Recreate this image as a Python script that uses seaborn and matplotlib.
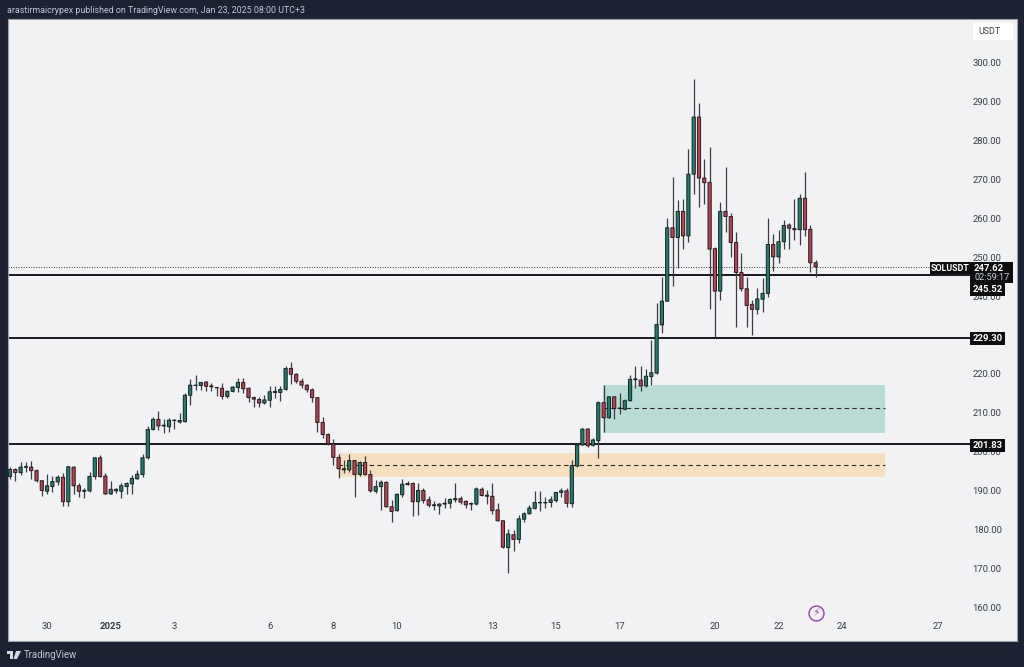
import matplotlib
matplotlib.use("Agg")
import matplotlib.pyplot as plt
from matplotlib.patches import Rectangle, Polygon
import numpy as np
import pandas as pd
import seaborn as sns

# O, H, L, C values (4h candles of SOL/USDT)
opens = [193.6,195.4,194.6,196.0,196.0,195.1,192.5,189.8,191.0,192.2,193.4,187.1,196.0,191.2,189.8,189.9,193.6,198.4,193.7,189.1,
 190.3,189.8,191.0,191.7,193.0,194.1,198.4,205.7,208.3,206.6,206.4,208.0,207.6,207.7,214.5,217.0,217.0,217.9,216.9,216.5,
 216.3,214.2,215.5,216.5,217.8,216.3,213.9,213.4,212.5,213.2,215.5,215.2,216.0,221.4,219.9,218.1,217.1,215.9,213.9,207.5,
 204.4,202.0,198.5,195.6,195.3,197.7,194.1,197.2,194.1,189.8,191.0,192.1,185.8,184.8,188.9,191.5,191.8,187.1,190.0,187.6,
 186.3,186.0,186.5,186.7,187.6,187.9,187.2,186.5,186.5,190.3,188.8,188.5,185.0,182.2,175.3,178.6,177.4,182.6,184.0,185.4,
 186.8,186.8,186.9,187.4,189.5,189.9,186.6,196.3,201.7,205.8,201.6,202.8,212.6,208.7,214.1,211.2,210.9,213.1,218.5,218.4,
 216.9,219.3,220.2,232.6,238.7,257.6,255.1,261.8,255.5,271.4,286.1,270.4,269.3,252.2,241.3,261.8,260.5,253.8,246.1,241.9,
 237.9,236.6,239.2,240.7,253.3,250.1,254.0,258.3,257.4,257.1,265.2,257.2,248.6]
closes = [195.4,194.6,196.0,196.1,195.1,192.5,190.0,191.2,192.3,193.4,187.1,196.1,191.2,189.8,190.0,193.6,198.4,193.6,189.1,190.3,
 189.9,191.2,191.8,193.1,194.2,198.4,205.7,208.3,206.6,206.8,208.1,208.1,208.0,214.5,217.1,217.1,217.8,216.8,216.7,216.4,
 214.2,215.5,216.6,217.8,216.2,213.9,213.5,212.5,213.3,215.4,215.2,216.0,221.4,219.9,218.1,217.1,215.9,213.9,207.5,204.4,
 202.0,198.5,195.6,195.3,197.7,194.1,197.2,194.1,189.9,191.0,192.1,185.8,184.6,189.0,191.6,191.8,187.1,190.0,187.4,186.2,
 186.1,186.5,186.7,187.7,187.9,187.0,186.3,186.6,190.4,188.7,188.5,184.8,182.2,175.4,178.8,177.4,182.7,184.0,185.5,186.9,
 186.9,186.9,187.6,189.5,189.9,186.7,196.4,201.7,205.8,201.5,203.0,212.6,208.7,214.1,211.1,211.1,213.1,218.6,218.7,216.9,
 219.4,220.3,232.7,238.7,257.6,255.1,261.8,255.5,271.4,286.1,270.4,269.2,252.1,241.3,261.8,260.5,253.8,246.1,241.9,237.6,
 236.6,239.3,240.7,253.3,250.1,254.0,258.2,257.5,257.1,265.2,257.1,248.6,247.6]
highs = [196.0,195.7,197.3,197.3,197.7,195.4,192.7,194.2,193.6,194.0,194.6,196.3,196.3,192.0,190.6,194.8,198.5,199.1,194.6,192.5,
 190.6,191.8,192.3,194.0,195.3,199.4,206.6,208.8,210.4,208.3,208.6,208.3,209.9,215.0,218.6,219.7,218.0,218.2,217.7,216.7,
 217.6,215.9,216.9,218.9,218.9,216.5,214.3,214.1,214.6,216.9,216.9,216.9,222.0,223.1,220.3,218.9,217.4,216.3,214.1,208.8,
 204.7,203.2,199.4,197.8,199.4,197.8,197.7,198.9,195.3,192.7,192.7,192.5,187.5,189.3,192.9,192.5,192.2,191.8,190.6,188.6,
 187.4,186.9,188.0,188.0,191.8,188.6,187.5,187.1,191.0,190.8,190.1,192.0,186.7,182.4,180.0,179.8,183.7,184.5,186.3,189.9,
 189.9,188.4,188.6,189.7,190.6,190.6,197.8,202.1,206.0,206.0,203.5,212.9,217.2,214.3,214.3,215.2,213.5,219.7,222.0,221.9,
 221.2,228.7,238.2,244.9,260.0,270.6,264.8,264.9,277.8,295.8,289.7,275.2,278.3,252.6,264.2,273.2,261.5,256.6,251.0,244.9,
 239.0,242.0,244.6,260.0,256.0,256.9,259.6,258.7,264.9,266.3,272.0,258.3,249.3]
lows = [192.9,192.5,194.1,194.8,193.0,192.3,188.6,189.1,189.7,191.5,186.0,186.0,189.1,188.4,188.0,189.7,193.0,193.4,189.0,189.0,
 189.3,188.0,189.1,189.1,192.9,193.4,198.2,205.6,205.6,204.7,205.1,205.7,207.3,207.6,212.1,215.9,215.9,215.7,215.7,214.3,
 213.6,213.7,215.3,215.3,215.0,212.8,211.6,211.4,212.3,211.6,213.7,213.1,215.9,217.4,217.6,216.3,215.4,212.8,205.1,203.4,
 201.7,196.6,193.1,194.4,194.8,188.4,193.6,194.0,189.7,189.3,185.0,185.7,181.9,184.6,188.4,191.3,183.5,183.7,186.7,185.8,
 185.0,183.9,185.6,185.5,187.1,186.5,185.5,185.1,186.2,188.6,186.5,184.0,182.1,175.2,168.8,174.3,176.6,182.0,183.9,185.2,
 184.6,185.4,185.7,187.1,188.4,185.7,185.8,196.1,201.6,201.3,201.5,198.4,205.1,208.6,208.3,209.7,210.7,213.0,216.3,215.7,
 216.7,217.2,220.0,230.6,238.7,242.5,247.2,252.1,254.0,266.3,263.0,263.7,236.6,229.2,239.0,256.5,250.0,232.0,241.4,232.0,
 230.0,235.4,235.8,239.7,246.6,248.5,252.2,252.1,254.5,253.2,255.6,246.3,244.9]

levels = [245.52, 229.30, 201.83]
last_price = 247.62
countdown = "02:59:17"
teal_zone = (204.8, 217.1, 211.2)
orange_zone = (193.5, 199.6, 196.6)
ytick_values = [300, 290, 280, 270, 260, 250, 240, 220, 210, 200, 190, 180, 170, 160]
xtick_index = [7, 19, 31, 49, 61, 73, 91, 103, 115, 133, 145, 157, 175]
xtick_labels = ["30", "2025", "3", "6", "8", "10", "13", "15", "17", "20", "22", "24", "27"]

W, H = 1024, 667
BG, PANEL = "#1b2231", "#f0f2f4"
GREEN, RED, EDGE = "#1f7f6b", "#c43f4e", "#1d1f24"
FONT = "Roboto"

sns.set_theme(style="white")
plt.rcParams["font.family"] = [FONT, "DejaVu Sans"]

fig = plt.figure(figsize=(W / 100, H / 100), dpi=100, facecolor=BG)
L, R, T, B = 8, 1017, 19, 641
ax = fig.add_axes([L / W, 1 - B / H, (R - L) / W, (B - T) / H], facecolor=PANEL)

def X(px):  # pixel column to candle index
    return (px - 10) / 5.3

df = pd.DataFrame({"i": np.arange(len(opens)), "o": opens, "h": highs, "l": lows, "c": closes})
df["base"] = df[["o", "c"]].min(axis=1)
df["height"] = (df["c"] - df["o"]).abs()
df["up"] = df["c"] >= df["o"]

# zones
for (lo, hi, mid), colour, start in [(teal_zone, "#b8dcd5", 603), (orange_zone, "#f6dfbe", 338)]:
    ax.add_patch(Rectangle((X(start), lo), X(885) - X(start), hi - lo, fc=colour, ec="none", zorder=1))
    ax.hlines(mid, X(start), X(885), color="#2a2a2a", lw=0.8, ls=(0, (4, 3)), zorder=1.5)

# levels
ax.hlines(levels, X(8), X(970), color="#17191d", lw=1.4, zorder=2)
ax.hlines(last_price, X(8), X(930), color="#333333", lw=0.7, ls=(0, (1, 1.6)), zorder=2)

# candles
ax.vlines(df["i"], df["l"], df["h"], color="#3b3d42", lw=0.9, zorder=3)
for up, colour in [(True, GREEN), (False, RED)]:
    sub = df[df["up"] == up]
    sns.barplot(data=sub, x="i", y="height", bottom=sub["base"].to_numpy(), native_scale=True,
                color=colour, saturation=1, width=0.6, edgecolor=EDGE, linewidth=0.7,
                errorbar=None, ax=ax, zorder=4)
for p in ax.patches:
    p.set_snap(False)

ax.set_xlim(X(L), X(R))
ax.set_ylim(300 - (B - 63) / 3.886, 300 + (63 - T) / 3.886)
ax.set_xlabel("")
ax.set_ylabel("")

ax.yaxis.tick_right()
ax.set_yticks(ytick_values, [f"{v:.2f}" for v in ytick_values])
ax.tick_params(axis="y", length=0, pad=-11, labelsize=6.8, labelcolor="#3a3d44")
for t in ax.get_yticklabels():
    t.set_ha("right")
ax.set_xticks(xtick_index, xtick_labels)
ax.tick_params(axis="x", length=0, pad=-13.5, labelsize=6.8, labelcolor="#3a3d44")
for t in ax.get_xticklabels():
    if t.get_text() == "2025":
        t.set_fontweight("bold")
for s in ax.spines.values():
    s.set_color("#9aa0a8")
    s.set_linewidth(0.8)

# pixel-placed furniture
def box(x0, y0, x1, y1, fc, z=6):
    fig.add_artist(Rectangle((x0 / W, 1 - y1 / H), (x1 - x0) / W, (y1 - y0) / H, fc=fc, ec="none",
                             transform=fig.transFigure, zorder=z))

def label(x, y, s, color="white", size=6.8, weight="normal", ha="center", z=7):
    fig.text(x / W, 1 - y / H, s, color=color, fontsize=size, fontweight=weight,
             ha=ha, va="center", zorder=z)

box(973, 23, 1013, 40, "white")
label(989, 32, "USDT", "#3a3d44", 6.4)

box(930, 262, 970, 274, "#0d0e10")
label(950, 268, "SOLUSDT", "white", 6.4, "bold")
box(970, 262, 1013, 283, "#0d0e10")
label(989, 268, f"{last_price:.2f}", "white", 6.8, "bold")
label(992, 278, countdown, "#c9ccd2", 6.6)
for level, yc in zip(levels, [289.5, 338.5, 445]):
    box(970, yc - 6.5, 1005, yc + 6.5, "#0d0e10")
    label(987.5, yc, f"{level:.2f}", "white", 6.8, "bold")

# published line & branding
label(7, 10.5, "arastirmaicrypex published on TradingView.com, Jan 23, 2025 08:00 UTC+3", "#c3c7cf", 6.4, ha="left")
label(24, 654.5, "TradingView", "#c3c7cf", 6.9, ha="left")
box(7, 651, 13, 654, "#d5d8de")
box(10, 651, 13, 659, "#d5d8de")
fig.add_artist(Polygon([(16 / W, 1 - 651 / H), (21 / W, 1 - 651 / H), (17 / W, 1 - 659 / H), (13.5 / W, 1 - 659 / H)],
                       closed=True, fc="#d5d8de", ec="none", transform=fig.transFigure, zorder=6))

# lightning badge
purple = "#9c4fb5"
badge_y = 300 - (613 - 63) / 3.886
ax.scatter([X(816)], [badge_y], s=115, facecolor=PANEL, edgecolor=purple, linewidth=1.1, zorder=5)
ax.text(X(816), badge_y, "\u26A1", color=purple, fontsize=8, ha="center", va="center",
        family="DejaVu Sans", zorder=6)

fig.savefig("out.png", dpi=100, facecolor=BG)
